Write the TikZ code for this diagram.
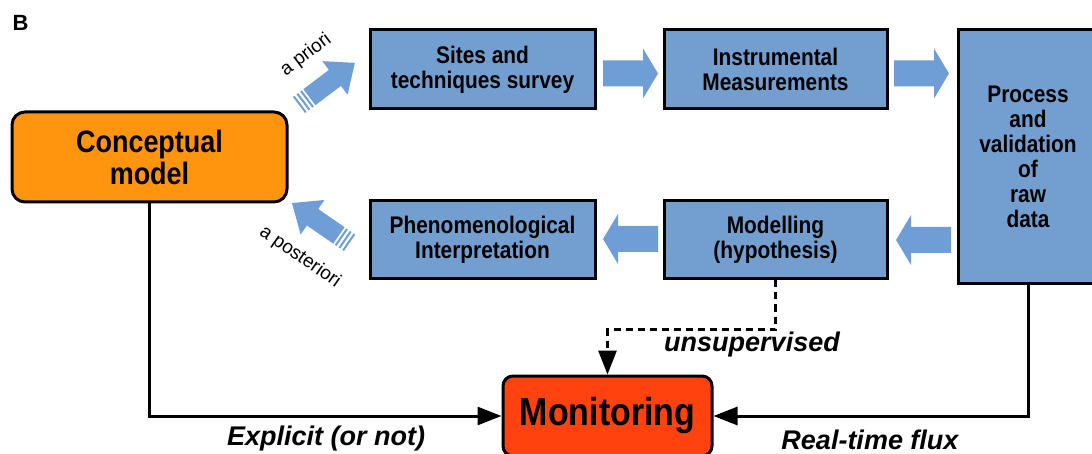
\documentclass[tikz,border=0pt]{standalone}
\usepackage{fontspec}
\setmainfont{Liberation Sans}
\newfontfamily\condfont[FakeStretch=0.87]{Liberation Sans}
\usetikzlibrary{arrows.meta}
\definecolor{boxblue}{HTML}{729FCF}
\definecolor{arrblue}{HTML}{6F9ED6}
\definecolor{cmorange}{HTML}{FF950E}
\definecolor{monred}{HTML}{FF420E}
\begin{document}
\begin{tikzpicture}[x=1pt,y=1pt,
  bluebox/.style={draw=black, line width=3pt, fill=boxblue, align=center, inner sep=0pt,
    font=\condfont\bfseries\fontsize{24}{25}\selectfont},
  conn/.style={line width=3pt, -{Triangle[length=24pt,width=18pt]}},
  dconn/.style={conn, dash pattern=on 7pt off 5pt},
  lab/.style={font=\bfseries\itshape\fontsize{27}{27}\selectfont, inner sep=0pt},
  smalllab/.style={font=\fontsize{19}{19}\selectfont, inner sep=0pt},
  hbar/.pic={\fill[arrblue] (0,-13) -- (40,-13) -- (40,-25) -- (55,0) -- (40,25) -- (40,13) -- (0,13) -- cycle;},
  darr/.pic={
    \fill[arrblue] (0,-10) rectangle (2,10);
    \fill[arrblue] (4.5,-10) rectangle (6.5,10);
    \fill[arrblue] (9,-10) rectangle (11,10);
    \fill[arrblue] (13,-10) -- (45,-10) -- (45,-21) -- (70,0) -- (45,21) -- (45,10) -- (13,10) -- cycle;}
]
\useasboundingbox (0,0) rectangle (1092,-454);

% label B
\node[font=\bfseries\fontsize{22}{22}\selectfont, inner sep=0pt] (B) at (20.5,-23) {B};

% boxes
\node[draw=black, line width=3pt, fill=cmorange, rounded corners=13pt, align=center,
  minimum width=275pt, minimum height=90pt, inner sep=0pt,
  font=\condfont\bfseries\fontsize{31}{32}\selectfont] (cm) at (149.5,-157) {Conceptual\\model};
\node[bluebox, minimum width=225pt, minimum height=79pt] (sites) at (482.5,-69.5) {Sites and\\techniques survey};
\node[bluebox, minimum width=223pt, minimum height=79pt] (instr) at (775.5,-69.5) {Instrumental\\Measurements};
\node[bluebox, minimum width=140pt, minimum height=254pt] (proc) at (1028,-157) {Process\\and\\validation\\of\\raw\\data};
\node[bluebox, minimum width=225pt, minimum height=78pt] (phen) at (482.5,-240) {Phenomenological\\Interpretation};
\node[bluebox, minimum width=223pt, minimum height=78pt] (model) at (775.5,-240) {Modelling\\(hypothesis)};
\node[draw=black, line width=3pt, fill=monred, rounded corners=10pt,
  minimum width=209pt, minimum height=80pt, inner sep=0pt,
  font=\condfont\bfseries\fontsize{39}{39}\selectfont] (mon) at (607.5,-416) {Monitoring};

% block arrows
\pic at (603,-73.5) {hbar};
\pic at (894,-73.5) {hbar};
\pic[rotate=180] at (951,-240) {hbar};
\pic[rotate=180] at (658,-239) {hbar};
\pic[rotate=37] at (299,-105) {darr};
\pic[rotate=145.4] at (349.6,-242.8) {darr};

\node[smalllab, rotate=37] (apr) at (306,-55) {a priori};
\node[smalllab, rotate=-35] (apost) at (300,-257) {a posteriori};

% connectors
\draw[conn] (cm.south) -- (cm.south |- mon.west) -- (mon.west);
\draw[conn] (proc.south) -- (proc.south |- mon.east) -- (mon.east);
\coordinate (dm) at ([yshift=-49pt]model.south);
\draw[dconn] (model.south) -- (dm) -- (dm -| mon.north) -- (mon.north);

\node[lab] (l1) at (326,-439) {Explicit (or not)};
\node[lab] (l2) at (752,-345) {unsupervised};
\node[lab] (l3) at (870,-440) {Real-time flux};
\end{tikzpicture}
\end{document}
